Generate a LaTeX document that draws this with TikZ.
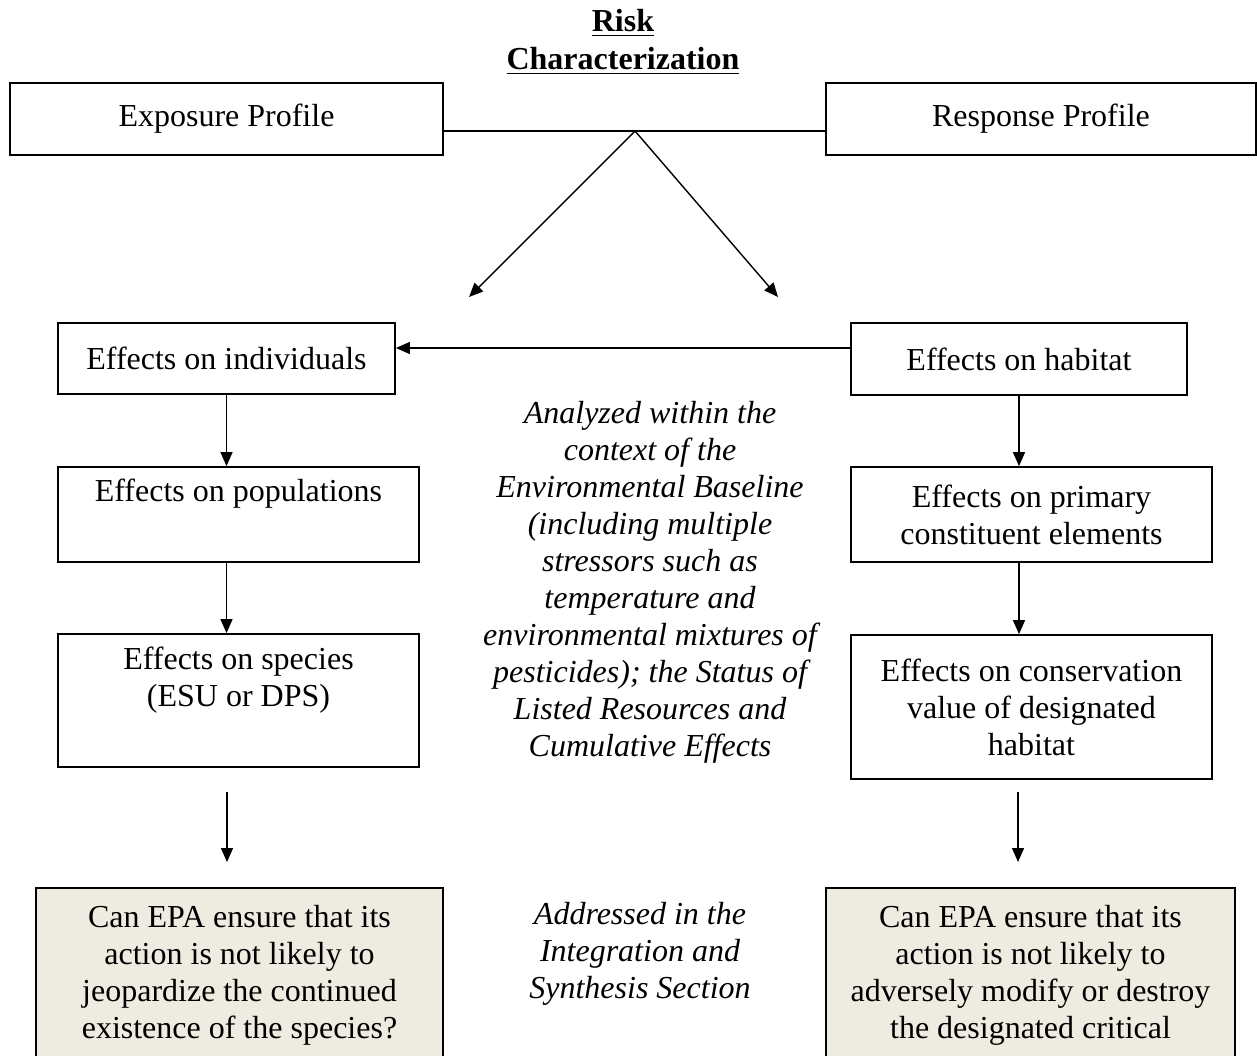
\documentclass[tikz,border=0pt]{standalone}
\usepackage{fontspec}
\setmainfont{Liberation Serif}
\usepackage{tikz}
\usetikzlibrary{
	arrows.meta,
	calc
}
\definecolor{PaleTan}{RGB}{238,236,225}

\begin{document}
\begin{tikzpicture}[x=0.5pt, y=-0.5pt,
		box/.style={draw, line width=0.9pt, align=center, inner sep=2pt, font=\fontsize{16}{18.5}\selectfont},
		askbox/.style={box, fill=PaleTan},
		note/.style={align=center, font=\fontsize{16}{18.5}\selectfont\itshape},
		arr/.style={line width=0.7pt, -{Triangle[length=7pt, width=6pt]}}]
		\useasboundingbox (0,0) rectangle (1257,1055);
		\clip (0,0) rectangle (1257,1055);
		
		\node[align=center, font=\fontsize{16}{19}\selectfont\bfseries] (title) at (623,42) {\underline{Risk}\\\underline{Characterization}};
		
		% profiles
		\node[box, minimum width=216.5pt, minimum height=36pt] (expo) at (226.5,119) {Exposure Profile};
		\node[box, minimum width=215pt, minimum height=36pt] (resp) at (1041,119) {Response Profile};
		
		\coordinate (apex) at (635,131);
		\coordinate (tipL) at (469,297);
		\coordinate (tipR) at (778,297);
		\draw[line width=0.9pt] (expo.east |- apex) -- (resp.west |- apex);
		\draw[arr] (apex) -- (tipL);
		\draw[arr] (apex) -- (tipR);
		
		% left column
		\node[box, minimum width=168.5pt, minimum height=35.5pt] (indiv) at (226.5,358.5) {Effects on individuals};
		\node[box, minimum width=180.5pt, minimum height=47.5pt] (popul) at (238.5,514.5) {Effects on populations\\\strut};
		\node[box, minimum width=180.5pt, minimum height=66.5pt] (spec) at (238.5,700.5) {Effects on species\\(ESU or DPS)\\\strut};
		\node[askbox, minimum width=203.5pt, minimum height=87pt] (jeop) at (239.5,975) {Can EPA ensure that its\\action is not likely to\\jeopardize the continued\\existence of the species?};
		
		% right column
		\node[box, minimum width=168pt, minimum height=36pt] (habit) at (1019,359) {Effects on habitat};
		\node[box, minimum width=180.5pt, minimum height=47.5pt] (pce) at (1031.5,514.5) {Effects on primary\\constituent elements};
		\node[box, minimum width=180.5pt, minimum height=72pt] (cons) at (1031.5,707) {Effects on conservation\\value of designated\\habitat};
		\node[askbox, minimum width=204.5pt, minimum height=87pt] (modif) at (1030.5,975) {Can EPA ensure that its\\action is not likely to\\adversely modify or destroy\\the designated critical};
		
		% middle notes
		\node[note] (base) at (650,582) {Analyzed within the\\context of the\\Environmental Baseline\\(including multiple\\stressors such as\\temperature and\\environmental mixtures of\\pesticides); the Status of\\Listed Resources and\\Cumulative Effects};
		\node[note] (synth) at (640,954) {Addressed in the\\Integration and\\Synthesis Section};
		
		% connectors
		\coordinate (hy) at (0,348);
		\draw[arr] (habit.west |- hy) -- (indiv.east |- hy);
		\draw[arr] (indiv.south) -- (indiv.south |- popul.north);
		\draw[arr] (indiv.south |- popul.south) -- (indiv.south |- spec.north);
		\draw[arr] (habit.south) -- (habit.south |- pce.north);
		\draw[arr] (habit.south |- pce.south) -- (habit.south |- cons.north);
		
		\coordinate (qL1) at (227,792);
		\coordinate (qL2) at (227,862);
		\coordinate (qR1) at (1018,792);
		\coordinate (qR2) at (1018,862);
		\draw[arr] (qL1) -- (qL2);
		\draw[arr] (qR1) -- (qR2);
	\end{tikzpicture}
\end{document}
